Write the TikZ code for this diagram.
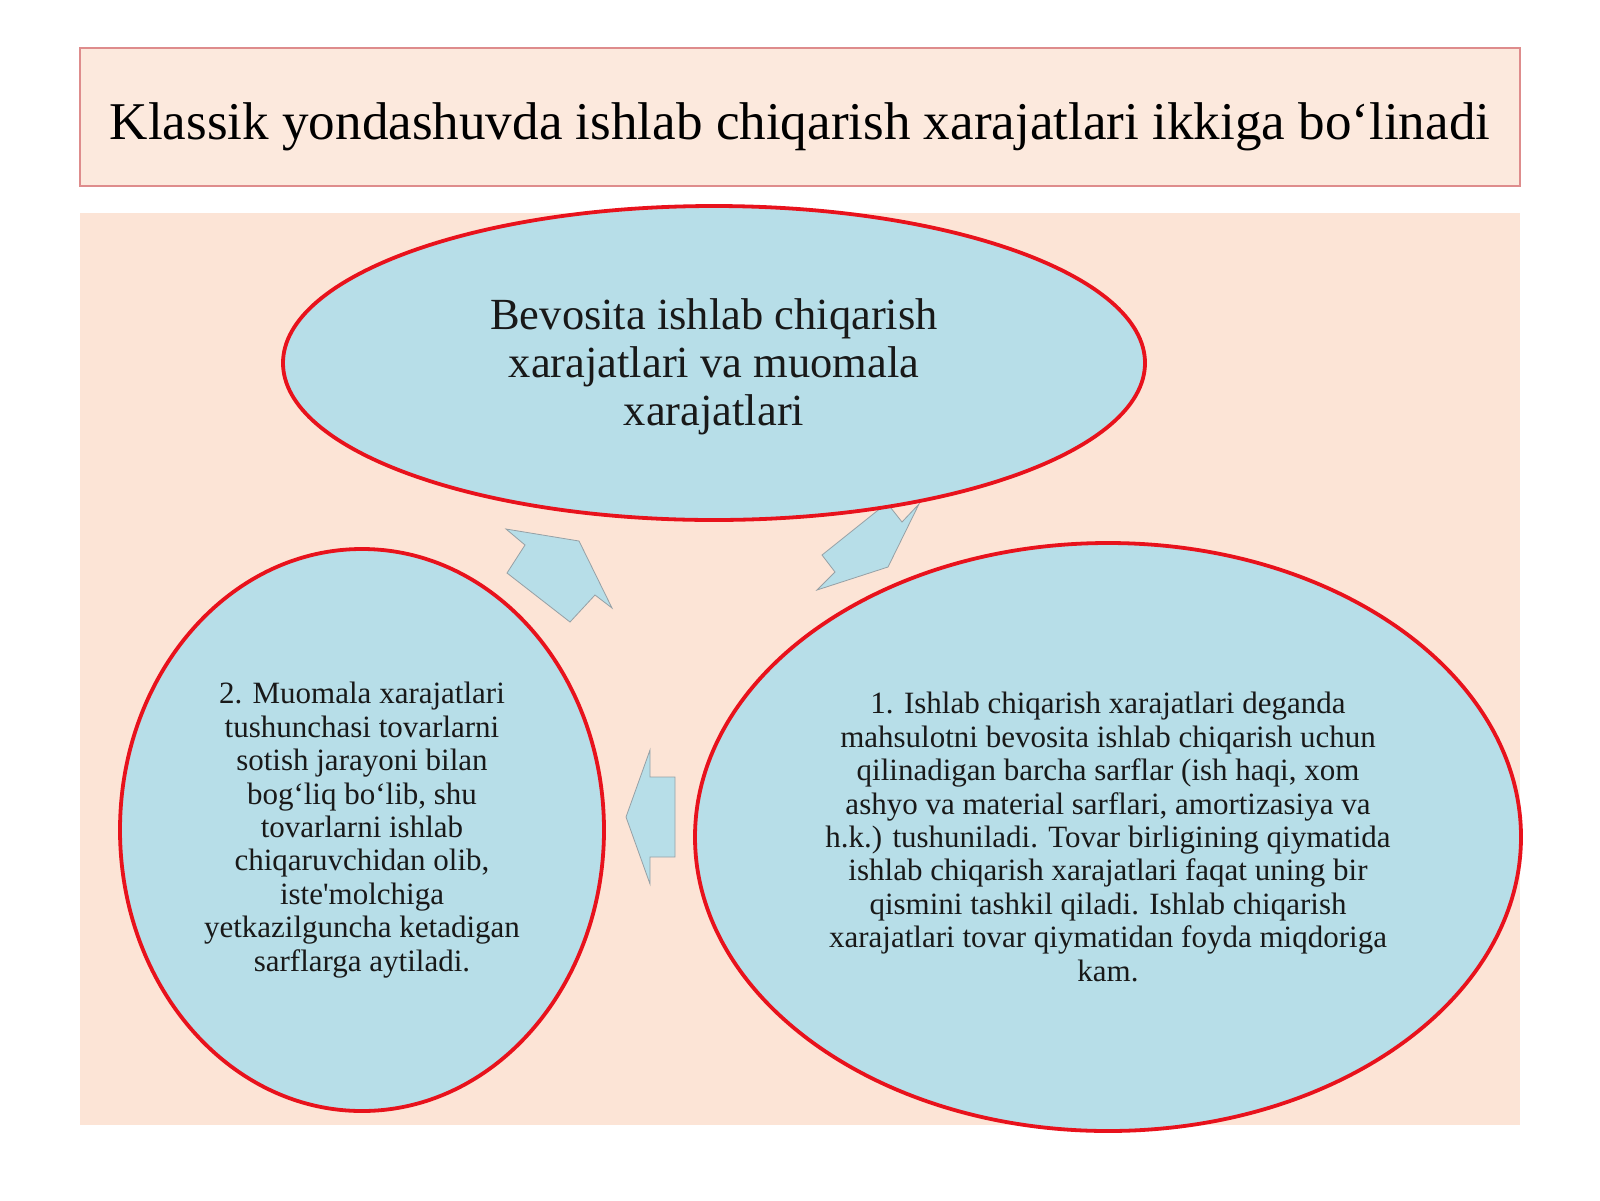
\documentclass[tikz,border=0pt]{standalone}
\usepackage{fontspec}
\setmainfont{Liberation Serif}
\usetikzlibrary{shapes.geometric}
\definecolor{peach}{RGB}{252,228,214}
\definecolor{titlefill}{RGB}{252,233,221}
\definecolor{titleline}{RGB}{222,140,140}
\definecolor{bubble}{RGB}{183,222,232}
\definecolor{ring}{RGB}{232,18,28}
\definecolor{arrowline}{RGB}{150,160,165}
\newcommand{\sq}{\XeTeXglyph\XeTeXglyphindex "quotesingle"\relax}
\begin{document}
\begin{tikzpicture}[x=1pt,y=-1pt,
  bubblenode/.style={ellipse, fill=bubble, draw=ring, line width=3.8pt, inner sep=0pt, align=center, text=black!90},
  blockarrow/.style={fill=bubble, draw=arrowline, line width=0.8pt, line join=miter}]
\useasboundingbox[fill=white] (0,0) rectangle (1600,1200);
% title
\node[draw=titleline, fill=titlefill, line width=1.2pt, minimum width=1440pt, minimum height=138pt, inner sep=0pt] (titlebox) at (800,117) {};
\node[anchor=base, font=\fontsize{53.1}{60}\selectfont, inner sep=0pt] (title) at (800,139) {Klassik yondashuvda ishlab chiqarish xarajatlari ikkiga bo‘linadi};
% panel
\node[fill=peach, minimum width=1440pt, minimum height=912pt, inner sep=0pt] (panel) at (800,669) {};
% arrows
\draw[blockarrow] (579,541) -- (612,608) -- (595,595) -- (570,622) -- (507,573) -- (525,545) -- (506,529) -- cycle;
\draw[blockarrow] (626,817) -- (650,750) -- (650,777) -- (675,777) -- (675,857) -- (650,857) -- (650,884) -- cycle;
\draw[blockarrow] (888,567) -- (817,590) -- (835,572) -- (822,555) -- (887,503) -- (902,522) -- (919,504) -- cycle;
% ellipses
\node[bubblenode, minimum width=862pt, minimum height=314pt, font=\fontsize{44.5}{48}\selectfont] (top) at (714,363)
  {\begin{tabular}{@{}c@{}}\rule{0pt}{44pt}Bevosita ishlab chiqarish\\xarajatlari va muomala\\xarajatlari\end{tabular}};
\node[bubblenode, minimum width=484pt, minimum height=562pt, font=\fontsize{31}{33.4}\selectfont] (left) at (362,830)
  {2. Muomala xarajatlari\\tushunchasi tovarlarni\\sotish jarayoni bilan\\bog‘liq bo‘lib, shu\\tovarlarni ishlab\\chiqaruvchidan olib,\\iste\sq molchiga\\yetkazilguncha ketadigan\\sarflarga aytiladi.};
\node[bubblenode, minimum width=826pt, minimum height=588pt, font=\fontsize{31}{33.4}\selectfont] (right) at (1108,837)
  {1. Ishlab chiqarish xarajatlari deganda\\mahsulotni bevosita ishlab chiqarish uchun\\qilinadigan barcha sarflar (ish haqi, xom\\ashyo va material sarflari, amortizasiya va\\h.k.) tushuniladi. Tovar birligining qiymatida\\ishlab chiqarish xarajatlari faqat uning bir\\qismini tashkil qiladi. Ishlab chiqarish\\xarajatlari tovar qiymatidan foyda miqdoriga\\kam.};
\end{tikzpicture}
\end{document}
